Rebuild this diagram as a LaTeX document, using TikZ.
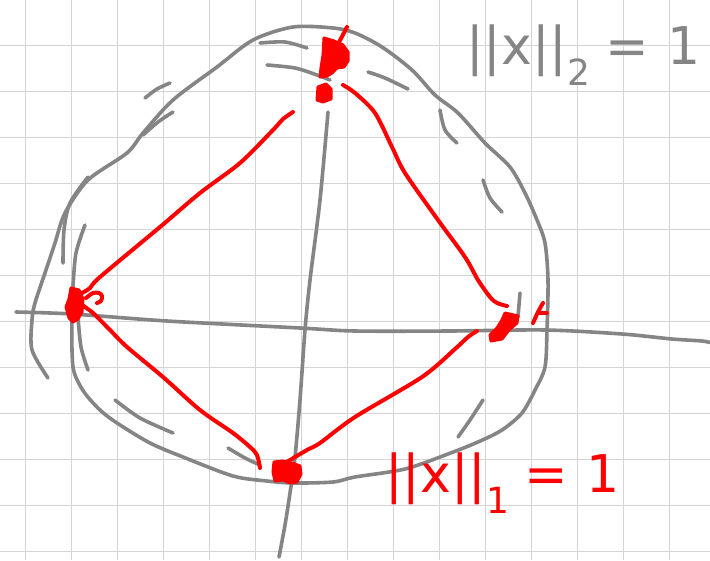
\documentclass[tikz,border=0pt]{standalone}
\usepackage{fontspec}
\newfontfamily\handfont{DejaVu Sans}
\definecolor{gridgray}{HTML}{D4D4D4}
\definecolor{pengray}{HTML}{858585}
\definecolor{penred}{HTML}{FF0000}
\begin{document}
\begin{tikzpicture}[x=1pt,y=-1pt,
  gridline/.style={draw=gridgray,line width=1.6pt},
  graypen/.style={draw=pengray,line width=3.6pt,line cap=round,line join=round},
  redpen/.style={draw=penred,line width=4pt,line cap=round,line join=round},
  redblob/.style={fill=penred,draw=penred,line width=3pt,line join=round,line cap=round},
  handtext/.style={font=\handfont\fontsize{52}{52}\selectfont,inner sep=0pt}]
\fill[white] (0,0) rectangle (710,560);
\useasboundingbox (0,0) rectangle (710,560);
% grid
\foreach \i in {0,...,14} \draw[gridline] ({25.5+46*\i},0) -- ({25.5+46*\i},560);
\foreach \j in {1,...,12} \draw[gridline] (0,{-0.5+46*\j}) -- (710,{-0.5+46*\j});
% axes
\draw[graypen] plot[smooth] coordinates {(16,312) (72,314) (167,321) (300,328) (355,331) (450,331) (545,330) (622,334) (672,339) (702,341) (712,343)};
\draw[graypen] plot[smooth] coordinates {(328,112) (320,200) (310,280) (305,330) (300,400) (295,457) (290,493) (285,525) (279,557)};
% unit circle (hand drawn)
\draw[graypen] plot[smooth] coordinates {(85,225) (76,253) (73,287) (72,317) (72,350) (74,372) (84,392) (100,410) (117,423) (150,443) (183,457) (233,476) (267,481) (293,483) (333,482) (355,477) (405,469) (448,454) (478,442) (502,430) (522,413) (535,390) (545,367) (547,330) (548,280) (545,243) (537,220) (525,193) (510,167) (485,143) (458,113) (435,95) (412,70) (382,47) (355,33) (333,28) (293,27) (253,40) (217,67) (173,100) (143,133) (127,153) (88,180) (65,213) (55,243) (47,267) (35,303) (32,320) (32,350) (48,378)};
% short strokes
\draw[graypen] plot[smooth] coordinates {(145,98) (157,89) (170,83)};
\draw[graypen] plot[smooth] coordinates {(143,135) (158,122) (173,112)};
\draw[graypen] plot[smooth] coordinates {(88,177) (70,203) (64,230) (63,263)};
\draw[graypen] plot[smooth] coordinates {(78,317) (81,347) (88,370)};
\draw[graypen] plot[smooth] coordinates {(260,43) (285,42) (307,48)};
\draw[graypen] plot[smooth] coordinates {(267,65) (295,68) (317,75) (330,80)};
\draw[graypen] plot[smooth] coordinates {(368,72) (385,78) (408,89)};
\draw[graypen] plot[smooth] coordinates {(440,110) (445,130) (457,143)};
\draw[graypen] plot[smooth] coordinates {(483,180) (490,198) (502,212)};
\draw[graypen] plot[smooth] coordinates {(115,400) (140,418) (173,433)};
\draw[graypen] plot[smooth] coordinates {(228,448) (245,458) (260,465)};
\draw[graypen] plot[smooth] coordinates {(483,400) (470,420) (458,437)};
\draw[graypen] plot[smooth] coordinates {(520,293) (518,317)};
% red edges
\draw[redpen] plot[smooth] coordinates {(293,112) (283,119) (273,130) (240,163) (200,193) (160,227) (100,277) (90,288) (82,293)};
\draw[redpen] plot[smooth] coordinates {(82,305) (93,313) (110,330) (127,347) (163,377) (200,410) (233,433) (250,447) (257,455) (260,468)};
\draw[redpen] plot[smooth] coordinates {(285,463) (307,450) (320,443) (355,417) (422,377) (455,349) (468,337) (477,331)};
\draw[redpen] plot[smooth] coordinates {(343,85) (355,93) (375,113) (392,147) (405,173) (438,220) (465,257) (478,280) (490,297) (497,303) (507,306)};
% red blobs at the vertices
\filldraw[redblob] (324,38) -- (334,41) -- (343,45) -- (348,52) -- (348,61) -- (344,67) -- (337,68) -- (332,73) -- (327,76) -- (320,77) -- (321,68) -- (323,55) -- cycle;
\draw[redpen] (347,27) -- (336,48);
\filldraw[redblob] (318,87) -- (326,84) -- (331,89) -- (331,99) -- (323,102) -- (317,100) -- cycle;
\filldraw[redblob] (71,288) -- (79,290) -- (83,299) -- (82,312) -- (78,319) -- (73,322) -- (69,318) -- (66,307) -- (69,299) -- cycle;
\draw[redpen] plot[smooth] coordinates {(86,298) (93,293) (99,293) (102,296) (101,301) (97,303)};
\filldraw[redblob] (505,313) -- (518,316) -- (517,323) -- (509,330) -- (502,339) -- (491,341) -- (490,335) -- (497,328) -- (502,320) -- cycle;
\draw[redpen] plot[smooth] coordinates {(533,323) (538,312) (543,303)};
\draw[redpen] (538,313) -- (547,313);
\filldraw[redblob] (274,462) -- (283,461) -- (292,463) -- (300,466) -- (301,474) -- (297,482) -- (290,483) -- (283,480) -- (275,481) -- (273,472) -- cycle;
% labels
\node[handtext,text=pengray,anchor=base west] (l2) at (466,64) {||x||\raisebox{-0.42em}{\fontsize{36}{36}\selectfont 2}\hspace{0.3em}=\hspace{0.35em}1};
\node[handtext,text=penred,anchor=base west] (l1) at (385,492) {||x||\raisebox{-0.42em}{\fontsize{36}{36}\selectfont 1}\hspace{0.3em}=\hspace{0.35em}1};
\end{tikzpicture}
\end{document}
